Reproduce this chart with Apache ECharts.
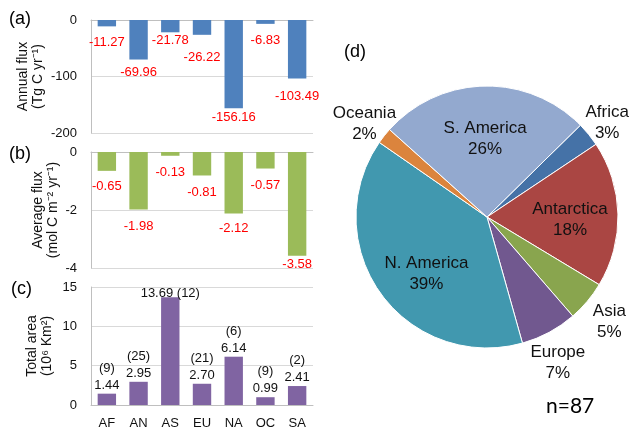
<!DOCTYPE html>
<html>
<head>
<meta charset="utf-8">
<script src="https://cdn.jsdelivr.net/npm/echarts@6/dist/echarts.min.js"></script>
<style>
html, body { margin: 0; padding: 0; background: #fff; }
#main { width: 630px; height: 432px; }
</style>
</head>
<body>
<div id="main"></div>
<script>
// data
var regions = ['AF', 'AN', 'AS', 'EU', 'NA', 'OC', 'SA'];
var annualFlux = [-11.27, -69.96, -21.78, -26.22, -156.16, -6.83, -103.49];
var averageFlux = [-0.65, -1.98, -0.13, -0.81, -2.12, -0.57, -3.58];
var totalArea = [1.44, 2.95, 13.69, 2.70, 6.14, 0.99, 2.41];
var siteCount = [9, 25, 12, 21, 6, 9, 2];
var pieNames = ['Africa', 'Antarctica', 'Asia', 'Europe', 'N. America', 'Oceania', 'S. America'];
var pieShare = [3, 18, 5, 7, 39, 2, 26];

var pieColors = ['#4572A7', '#AA4643', '#89A54E', '#71588F', '#4198AF', '#DB843D', '#93A9CF'];
var pieInside = ['Antarctica', 'N. America', 'S. America'];
// label nudges (the labels were hand placed in the original)
var annualGap = [10, 6, 2, 16, 3, 10, 11];
var averageGap = [9, 11, 10, 10, 8, 10, 2];
var pieShift = {
  'Africa': [-4, 7], 'Antarctica': [0, 5], 'Asia': [0, 2], 'Europe': [-5, 5],
  'N. America': [7, 9], 'Oceania': [3, 6], 'S. America': [0, 5]
};

var font = 'Liberation Sans, Arial, sans-serif';
var gridColor = '#D9D9D9';

var chart = echarts.init(document.getElementById('main'));

function catAxis(idx, showLabels) {
  return {
    type: 'category',
    gridIndex: idx,
    data: regions,
    axisTick: { show: false },
    axisLine: { show: true, lineStyle: { color: '#BFBFBF' } },
    axisLabel: { show: showLabels, color: '#111', fontSize: 13, fontFamily: font, margin: 12 }
  };
}

function valAxis(idx, min, max, step, name, gap) {
  return {
    type: 'value',
    gridIndex: idx,
    min: min,
    max: max,
    interval: step,
    name: name,
    nameLocation: 'middle',
    nameGap: gap,
    nameTextStyle: { color: '#111', fontSize: 14, lineHeight: 15, fontFamily: font },
    axisLine: { show: true, lineStyle: { color: '#BFBFBF' } },
    axisTick: { show: false },
    axisLabel: { color: '#111', fontSize: 13, fontFamily: font, margin: 14 },
    splitLine: { lineStyle: { color: gridColor } }
  };
}

var redLabel = { show: true, position: 'bottom', color: '#FF0000', fontSize: 13, fontFamily: font };

function pieLabels(showInside) {
  return pieNames.map(function (n, i) {
    var inside = pieInside.indexOf(n) >= 0;
    return {
      name: n,
      value: pieShare[i],
      label: { show: inside === showInside, offset: pieShift[n] }
    };
  });
}

var pieLabelStyle = {
  position: 'inside', formatter: '{b}\n{c}%', color: '#111', fontSize: 17,
  lineHeight: 21, fontFamily: font, textBorderWidth: 0
};

var option = {
  animation: false,
  grid: [
    { left: 91, top: 20, width: 222, height: 113 },
    { left: 91, top: 152, width: 222, height: 116 },
    { left: 91, top: 287, width: 222, height: 118 }
  ],
  xAxis: [catAxis(0, false), catAxis(1, false), catAxis(2, true)],
  yAxis: [
    valAxis(0, -200, 0, 100, 'Annual flux\n(Tg C yr\u207B\u00B9)', 45),
    valAxis(1, -4, 0, 2, 'Average flux\n(mol C m\u207B\u00B2 yr\u207B\u00B9)', 30),
    valAxis(2, 0, 15, 5, 'Total area\n(10\u2076 Km\u00B2)', 36)
  ],
  graphic: [
    { type: 'text', left: 9, top: 10, style: { text: '(a)', fontSize: 18, fontFamily: font, fill: '#000' } },
    { type: 'text', left: 9, top: 145, style: { text: '(b)', fontSize: 18, fontFamily: font, fill: '#000' } },
    { type: 'text', left: 11, top: 280, style: { text: '(c)', fontSize: 18, fontFamily: font, fill: '#000' } },
    { type: 'text', left: 344, top: 43, style: { text: '(d)', fontSize: 18, fontFamily: font, fill: '#000' } },
    { type: 'text', left: 546, top: 396, style: { text: 'n=87', fontSize: 21, fontFamily: 'Lato, sans-serif', fill: '#000' } }
  ],
  series: [
    {
      type: 'bar',
      xAxisIndex: 0,
      yAxisIndex: 0,
      barWidth: '58%',
      itemStyle: { color: '#4F81BD' },
      label: redLabel,
      data: annualFlux.map(function (v, i) {
        return { value: v, label: { distance: annualGap[i] } };
      })
    },
    {
      type: 'bar',
      xAxisIndex: 1,
      yAxisIndex: 1,
      barWidth: '58%',
      itemStyle: { color: '#9BBB59' },
      label: redLabel,
      data: averageFlux.map(function (v, i) {
        return { value: v, label: { distance: averageGap[i] } };
      })
    },
    {
      type: 'bar',
      xAxisIndex: 2,
      yAxisIndex: 2,
      barWidth: '58%',
      itemStyle: { color: '#8064A2' },
      label: {
        show: true,
        position: 'top',
        distance: 0,
        color: '#111',
        fontSize: 13,
        lineHeight: 17,
        fontFamily: font,
        formatter: function (p) {
          var v = p.value.toFixed(2);
          var n = '(' + siteCount[p.dataIndex] + ')';
          return p.dataIndex === 2 ? v + ' ' + n : n + '\n' + v;
        }
      },
      data: totalArea.map(function (v, i) {
        return i === 2 ? { value: v, label: { distance: -5 } } : v;
      })
    },
    {
      type: 'pie',
      center: [487, 217],
      radius: 131,
      startAngle: 44.5,
      label: { show: false },
      labelLine: { show: false },
      silent: true,
      itemStyle: { borderColor: '#fff', borderWidth: 1 },
      data: pieNames.map(function (n, i) {
        return { name: n, value: pieShare[i], itemStyle: { color: pieColors[i] } };
      })
    },
    {
      // invisible copy, only carries the labels inside the big slices
      type: 'pie',
      center: [487, 217],
      radius: [0, 160],
      startAngle: 44.5,
      silent: true,
      itemStyle: { color: 'rgba(0,0,0,0)' },
      labelLine: { show: false },
      data: pieLabels(true),
      label: pieLabelStyle
    },
    {
      // invisible copy for the labels outside the small slices
      type: 'pie',
      center: [487, 217],
      radius: [0, 314],
      startAngle: 44.5,
      silent: true,
      itemStyle: { color: 'rgba(0,0,0,0)' },
      labelLine: { show: false },
      data: pieLabels(false),
      label: pieLabelStyle
    }
  ]
};

chart.setOption(option);
</script>
</body>
</html>
